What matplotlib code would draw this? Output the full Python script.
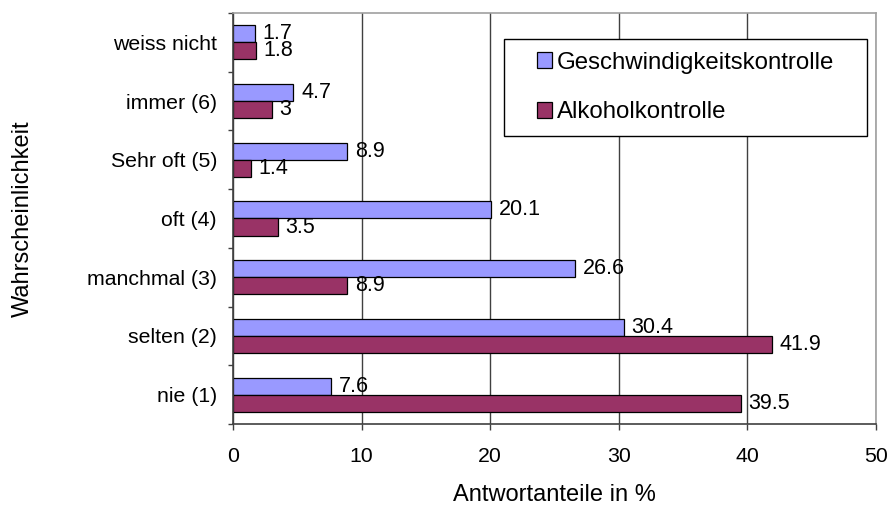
import numpy as np
import matplotlib
matplotlib.use("Agg")
from matplotlib import pyplot as plt
from matplotlib.patches import Rectangle

# data (bottom to top)
categories = ["nie (1)", "selten (2)", "manchmal (3)", "oft (4)",
              "Sehr oft (5)", "immer (6)", "weiss nicht"]
geschw = [7.6, 30.4, 26.6, 20.1, 8.9, 4.7, 1.7]
alkohol = [39.5, 41.9, 8.9, 3.5, 1.4, 3.0, 1.8]
x_ticks = [0, 10, 20, 30, 40, 50]

plt.rcParams['font.family'] = ['Liberation Sans', 'DejaVu Sans']

fig = plt.figure(figsize=(8.89, 5.05), dpi=100)
ax = fig.add_axes([0.2621, 0.1604, 0.7233, 0.8139])

y = np.arange(len(categories))
h = 0.29
b1 = ax.barh(y + h / 2, geschw, height=h, color='#9999FF',
             edgecolor='black', linewidth=0.9, label='Geschwindigkeitskontrolle')
b2 = ax.barh(y - h / 2, alkohol, height=h, color='#993366',
             edgecolor='black', linewidth=0.9, label='Alkoholkontrolle')

ax.bar_label(b1, labels=['%g' % v for v in geschw], padding=5.5, fontsize=15.5)
ax.bar_label(b2, labels=['%g' % v for v in alkohol], padding=5.5, fontsize=15.5)

ax.set_xlim(0, 50)
ax.set_ylim(-0.5, len(categories) - 0.5)
ax.set_xticks(x_ticks)
ax.set_yticks(y)
ax.set_yticklabels(categories)
ax.set_yticks(np.arange(-0.5, len(categories), 1), minor=True)
ax.tick_params(axis='y', which='major', length=0, pad=11.5, labelsize=15.3)
ax.tick_params(axis='y', which='minor', length=3.6, width=1, color='#404040')
ax.tick_params(axis='x', length=4.3, width=1, color='#404040', pad=12, labelsize=15.3)

ax.grid(axis='x', color='#404040', linewidth=1)
ax.set_axisbelow(True)
for s in ['left', 'bottom']:
    ax.spines[s].set_color('#404040')
    ax.spines[s].set_linewidth(1.2)
for s in ['top', 'right']:
    ax.spines[s].set_color('#a0a0a0')
    ax.spines[s].set_linewidth(1.2)

ax.set_xlabel("Antwortanteile in %", fontsize=17, va='center')
ax.xaxis.set_label_coords(0.5, -0.1727)
ax.set_ylabel("Wahrscheinlichkeit", fontsize=17, va='center')
ax.yaxis.set_label_coords(-0.3266, 0.5)

# legend box
box = Rectangle((0.4215, 0.7007), 0.5645, 0.236, transform=ax.transAxes,
                facecolor='white', edgecolor='black', linewidth=1, zorder=4)
ax.add_patch(box)
leg = ax.legend(loc='center', bbox_to_anchor=(0.7037, 0.8187), frameon=False,
                fontsize=17.3, handlelength=0.65, handleheight=0.65,
                handletextpad=0.2, labelspacing=1.15, borderpad=0)
leg.set_zorder(5)

fig.savefig('out.png', dpi=100)
